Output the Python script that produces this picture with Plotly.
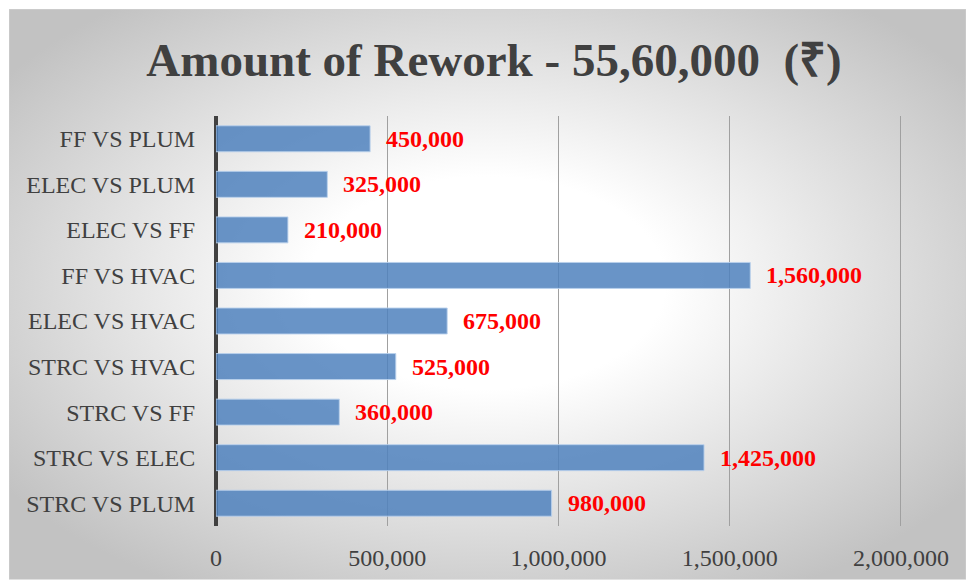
import plotly.graph_objects as go
import base64

categories = ["FF VS PLUM", "ELEC VS PLUM", "ELEC VS FF", "FF VS HVAC", "ELEC VS HVAC",
              "STRC VS HVAC", "STRC VS FF", "STRC VS ELEC", "STRC VS PLUM"]
values = [450000, 325000, 210000, 1560000, 675000, 525000, 360000, 1425000, 980000]
tick_vals = [0, 500000, 1000000, 1500000, 2000000]
tick_text = ["0", "500,000", "1,000,000", "1,500,000", "2,000,000"]
title_text = "Amount of Rework - 55,60,000  (₹)"

W, H = 968, 583
L, R, T, B = 216, 65, 116, 53
pw, ph = W - L - R, H - T - B

# radial gradient background (styling only)
svg = f'''<svg xmlns="http://www.w3.org/2000/svg" width="957" height="576" viewBox="0 0 957 576" preserveAspectRatio="none">
<defs><radialGradient id="g" cx="0.5" cy="0.48" r="0.62" gradientUnits="objectBoundingBox">
<stop offset="0" stop-color="#ffffff"/><stop offset="0.3" stop-color="#ffffff"/>
<stop offset="1" stop-color="#c2c2c2"/></radialGradient></defs>
<rect x="0" y="0" width="957" height="576" fill="url(#g)" stroke="#d0d0d0" stroke-width="1"/></svg>'''
src = "data:image/svg+xml;base64," + base64.b64encode(svg.encode()).decode()

fig = go.Figure()
fig.add_trace(go.Bar(
    x=values, y=categories, orientation="h",
    marker=dict(color="rgba(79,129,189,0.85)", line=dict(color="rgba(185,208,236,0.9)", width=1)),
    width=0.57, hoverinfo="skip",
))

for c, v in zip(categories, values):
    fig.add_annotation(x=v, y=c, text=f"<b>{v:,}</b>", showarrow=False, xanchor="left",
                       xshift=14, font=dict(family="Liberation Serif", size=24, color="#ff0000"))

fig.update_layout(
    width=W, height=H,
    margin=dict(l=L, r=R, t=T, b=B, pad=0),
    paper_bgcolor="#ffffff", plot_bgcolor="rgba(0,0,0,0)",
    showlegend=False,
    title=dict(text="<b>" + title_text + "</b>", x=494 / W, xanchor="center", y=1 - 60 / H, yanchor="middle",
               font=dict(family="Liberation Serif", size=47, color="#404040")),
    images=[dict(source=src, xref="paper", yref="paper",
                 x=(9 - L) / pw, y=(H - B - 8) / ph, sizex=957 / pw, sizey=576 / ph,
                 xanchor="left", yanchor="top", sizing="stretch", layer="below")],
)
fig.update_xaxes(range=[0, 2006000], tickvals=tick_vals, ticktext=tick_text, showgrid=True,
                 gridcolor="#a0a0a0", gridwidth=1, zeroline=True, zerolinecolor="#404040", zerolinewidth=4,
                 tickfont=dict(family="Liberation Serif", size=24, color="#404040"),
                 ticks="outside", ticklen=10, tickcolor="rgba(0,0,0,0)", fixedrange=True)
fig.update_yaxes(autorange="reversed", showgrid=False,
                 tickfont=dict(family="Liberation Serif", size=24, color="#404040"),
                 ticks="outside", ticklen=15, tickcolor="rgba(0,0,0,0)", fixedrange=True)

fig.write_html("out.html", config={"displayModeBar": False},
               post_script="document.body.style.margin='0';document.body.style.overflow='hidden';")
